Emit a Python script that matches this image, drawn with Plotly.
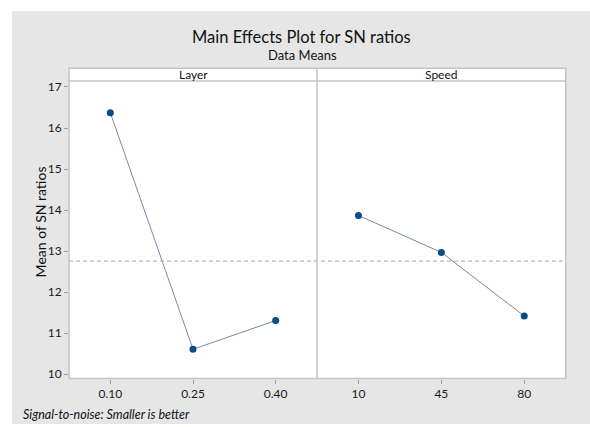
import plotly.graph_objects as go

# ---- data ----
layer_levels = ["0.10", "0.25", "0.40"]
layer_sn = [16.37, 10.61, 11.31]
speed_levels = ["10", "45", "80"]
speed_sn = [13.87, 12.97, 11.42]
y_ticks = [10, 11, 12, 13, 14, 15, 16, 17]
panel_titles = ["Layer", "Speed"]

W, H = 590, 427
FONT = "Lato"

def px(x):
    return x / W

def py(y):
    return 1 - y / H

L, MID, R = 69, 317, 565.7
TOP, STRIP_TOP, BOT = 80, 67, 381

grand_mean = (sum(layer_sn) + sum(speed_sn)) / (len(layer_sn) + len(speed_sn))

fig = go.Figure()
line_col = "#6a7b98"
mk_col = "#0b4a8b"
fig.add_trace(go.Scatter(x=layer_levels, y=layer_sn, mode="lines+markers",
                         xaxis="x", yaxis="y",
                         line=dict(color=line_col, width=0.9),
                         marker=dict(symbol="circle", size=7, color=mk_col),
                         showlegend=False, hoverinfo="x+y"))
fig.add_trace(go.Scatter(x=speed_levels, y=speed_sn, mode="lines+markers",
                         xaxis="x2", yaxis="y",
                         line=dict(color=line_col, width=0.9),
                         marker=dict(symbol="circle", size=7, color=mk_col),
                         showlegend=False, hoverinfo="x+y"))

axis_common = dict(type="category", range=[-0.5, 2.5], showgrid=False, zeroline=False,
                   ticks="outside", ticklen=4, tickcolor="#a0a0a0",
                   tickfont=dict(family=FONT, size=12, color="#1a1a1a"),
                   showline=False, anchor="y", fixedrange=True)

shapes = [
    # gray background
    dict(type="rect", xref="paper", yref="paper", x0=px(12), x1=1, y0=0, y1=py(9),
         fillcolor="#e6e6e6", line=dict(width=0), layer="below"),
    # white plot area + strip
    dict(type="rect", xref="paper", yref="paper", x0=px(L), x1=px(R), y0=py(BOT), y1=py(STRIP_TOP),
         fillcolor="white", line=dict(width=0), layer="below"),
    # mean line
    dict(type="line", xref="paper", yref="y", x0=px(L), x1=px(R), y0=grand_mean, y1=grand_mean,
         line=dict(color="#a8a8a8", width=1, dash="4px,3px")),
    # frame
    dict(type="rect", xref="paper", yref="paper", x0=px(L), x1=px(R), y0=py(BOT), y1=py(STRIP_TOP),
         fillcolor="rgba(0,0,0,0)", line=dict(color="#c4c4c4", width=1.5)),
    dict(type="line", xref="paper", yref="paper", x0=px(L), x1=px(R), y0=py(TOP), y1=py(TOP),
         line=dict(color="#c4c4c4", width=1.5)),
    dict(type="line", xref="paper", yref="paper", x0=px(MID), x1=px(MID), y0=py(BOT), y1=py(STRIP_TOP),
         line=dict(color="#c4c4c4", width=1.5)),
]

annotations = [
    dict(text="Main Effects Plot for SN ratios", x=px(301.5), y=py(35), xref="paper", yref="paper",
         showarrow=False, xanchor="center", yanchor="middle",
         font=dict(family=FONT, size=16.5, color="#111111")),
    dict(text="Data Means", x=px(302), y=py(54), xref="paper", yref="paper",
         showarrow=False, xanchor="center", yanchor="middle",
         font=dict(family=FONT, size=13, color="#111111")),
    dict(text=panel_titles[0], x=px((L + MID) / 2), y=py(73.5), xref="paper", yref="paper",
         showarrow=False, xanchor="center", yanchor="middle",
         font=dict(family=FONT, size=12, color="#111111")),
    dict(text=panel_titles[1], x=px((MID + R) / 2), y=py(73.5), xref="paper", yref="paper",
         showarrow=False, xanchor="center", yanchor="middle",
         font=dict(family=FONT, size=12, color="#111111")),
    dict(text="Mean of SN ratios", x=px(40), y=py(223), xref="paper", yref="paper",
         showarrow=False, xanchor="center", yanchor="middle", textangle=-90,
         font=dict(family=FONT, size=14, color="#111111")),
    dict(text="<i>Signal-to-noise: Smaller is better</i>", x=px(21), y=py(417), xref="paper", yref="paper",
         showarrow=False, xanchor="left", yanchor="middle",
         font=dict(family=FONT, size=12.5, color="#111111")),
]

fig.update_layout(
    width=W, height=H,
    margin=dict(l=0, r=0, t=0, b=0),
    paper_bgcolor="white",
    plot_bgcolor="rgba(0,0,0,0)",
    xaxis=dict(domain=[px(L), px(MID)], categoryarray=layer_levels, categoryorder="array", **axis_common),
    xaxis2=dict(domain=[px(MID), px(R)], categoryarray=speed_levels, categoryorder="array", **axis_common),
    yaxis=dict(domain=[py(BOT), py(TOP)], range=[10 - (BOT - 376.7) / 41.5, 17 + (86 - TOP) / 41.5],
               tickvals=y_ticks, ticks="outside", ticklen=4, tickcolor="#a0a0a0",
               showgrid=False, zeroline=False, showline=False, anchor="x",
               tickfont=dict(family=FONT, size=12, color="#1a1a1a"), fixedrange=True),
    shapes=shapes,
    annotations=annotations,
)

fig.write_html("out.html")
